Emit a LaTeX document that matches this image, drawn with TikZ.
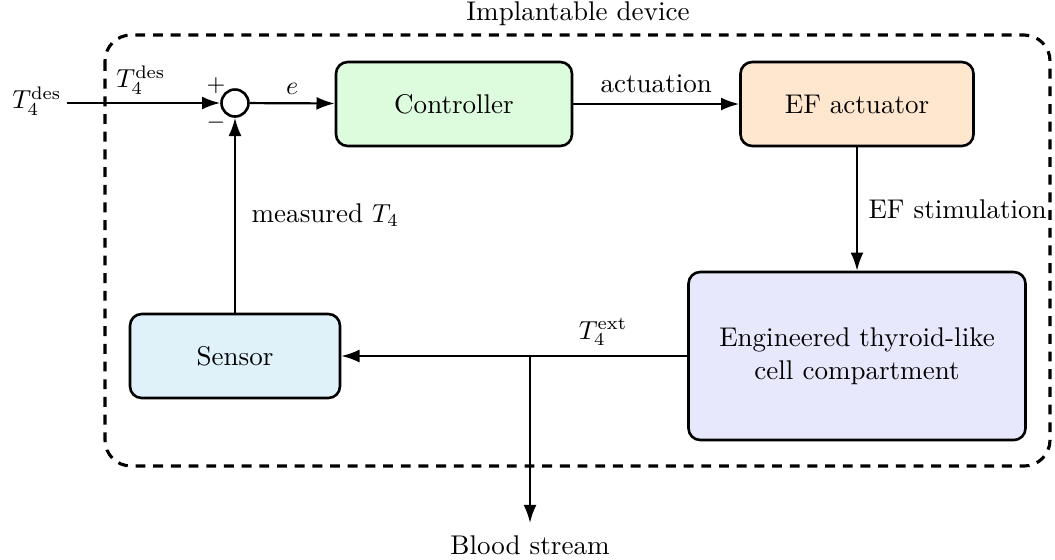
\documentclass[tikz,border=0pt]{standalone}
\usetikzlibrary{arrows.meta}
\definecolor{cgreen}{RGB}{221,251,221}
\definecolor{corange}{RGB}{255,230,206}
\definecolor{ccyan}{RGB}{223,242,250}
\definecolor{cviolet}{RGB}{232,232,252}
\tikzset{
  blk/.style={draw, line width=1pt, rounded corners=4.5pt, inner sep=0pt, align=center},
  conn/.style={line width=0.85pt, -{Latex[length=7pt,width=5pt]}},
  lbl/.style={inner sep=0pt},
}
\begin{document}
\begin{tikzpicture}[x=0.3846pt,y=-0.3846pt,font=\fontsize{10.4}{12.5}\selectfont]
\useasboundingbox (0,0) rectangle (1055,559);
% dashed enclosure
\draw[line width=1.2pt, dash pattern=on 3.8pt off 3.0pt, rounded corners=10pt] (105,35) rectangle (1050,466);
\node[lbl] (imp) at (578,14) {Implantable device};
% blocks
\node[blk, fill=cgreen, minimum width=236*0.3846pt, minimum height=84*0.3846pt] (ctrl) at (454,104) {Controller};
\node[blk, fill=corange, minimum width=233*0.3846pt, minimum height=84*0.3846pt] (act) at (857,104) {EF actuator};
\node[blk, fill=cviolet, minimum width=337*0.3846pt, minimum height=168*0.3846pt] (cell) at (857,356) {Engineered thyroid-like\\cell compartment};
\node[blk, fill=ccyan, minimum width=210*0.3846pt, minimum height=84*0.3846pt] (sens) at (235,356) {Sensor};
% summing junction
\node[draw, circle, line width=1pt, minimum size=27*0.3846pt, inner sep=0pt] (sum) at (235,103) {};
\node[lbl] at (216,86) {\small $+$};
\node[lbl] at (216,123) {\small $-$};
% input
\coordinate (in) at (67,103);
\node[lbl, anchor=east] (inlbl) at (62,101) {$T_4^{\mathrm{des}}$};
\draw[conn] (in) -- (sum);
\node[lbl] (inlbl2) at (141,80) {$T_4^{\mathrm{des}}$};
% forward path
\draw[conn] (sum) -- node[lbl, above=3pt] {$e$} (ctrl);
\draw[conn] (ctrl) -- node[lbl, above=4pt] {actuation} (act);
\draw[conn] (act.south) -- node[lbl, right=4pt] {EF stimulation} (act.south |- cell.north);
% T4ext path
\coordinate (br) at (530,356);
\coordinate (blood) at (530,523);
\draw[conn] (cell.west) -- (sens.east);
\node[lbl] (ext) at (603,332) {$T_4^{\mathrm{ext}}$};
\draw[conn] (br) -- (blood);
\node[lbl, anchor=north] (bl) at (530,535) {Blood stream};
% feedback
\draw[conn] (sens.north) -- node[lbl, right=6pt] {measured $T_4$} (sum.south);
\end{tikzpicture}
\end{document}
